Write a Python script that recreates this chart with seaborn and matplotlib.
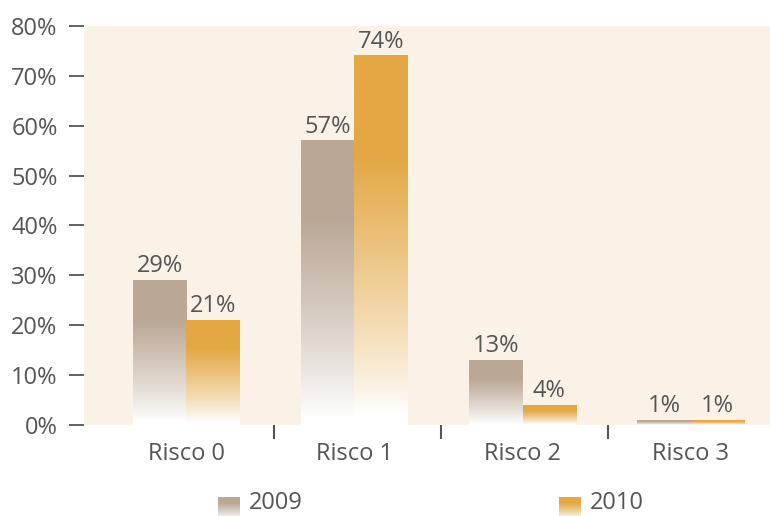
import numpy as np
import pandas as pd
import matplotlib
matplotlib.use("Agg")
import matplotlib.pyplot as plt
import matplotlib.colors as mcolors
import seaborn as sns

categories = ["Risco 0", "Risco 1", "Risco 2", "Risco 3"]
years = ["2009", "2010"]
values_2009 = [29, 57, 13, 1]
values_2010 = [21, 74, 4, 1]
y_ticks = [0, 10, 20, 30, 40, 50, 60, 70, 80]
y_tick_labels = ["0%", "10%", "20%", "30%", "40%", "50%", "60%", "70%", "80%"]

colors = {"2009": "#BAA795", "2010": "#E3A845"}
bg = "#FBF2E7"
text_c = "#555555"

df = pd.DataFrame({
    "Categoria": categories * 2,
    "Ano": [years[0]] * 4 + [years[1]] * 4,
    "Valor": values_2009 + values_2010,
})

sns.set_theme(style="white")
plt.rcParams["font.family"] = ["Open Sans", "DejaVu Sans"]
plt.rcParams["font.weight"] = "medium"
FS = 17

fig = plt.figure(figsize=(7.7, 5.16), dpi=100)
ax = fig.add_axes([84 / 770, 91 / 516, 1 - 84 / 770, (425 - 26) / 516])
ax.set_facecolor(bg)

sns.barplot(data=df, x="Categoria", y="Valor", hue="Ano", order=categories,
            hue_order=years, palette=colors, width=0.636, ax=ax,
            legend=False, saturation=1, errorbar=None)


def gradient_rgba(color, n=256):
    c = np.array(mcolors.to_rgb(color))
    t = np.linspace(1, 0, n)  # top -> bottom
    f = np.clip((t - 0.03) / 0.7, 0, 1) ** 0.85
    rgb = 1 - (1 - c)[None, :] * f[:, None]
    rgba = np.concatenate([rgb, np.ones((n, 1))], axis=1)
    return rgba[:, None, :]


for year, cont in zip(years, ax.containers):
    vals = values_2009 if year == "2009" else values_2010
    ax.bar_label(cont, labels=[f"{v}%" for v in vals], padding=1.5,
                 fontsize=FS, color=text_c)
    grad = gradient_rgba(colors[year])
    for p in cont.patches:
        x0 = p.get_x()
        w = p.get_width()
        h = p.get_height()
        ax.imshow(grad, extent=[x0, x0 + w, 0, h], aspect="auto",
                  zorder=2, interpolation="bilinear")
        p.set_visible(False)

ax.set_xlim(-0.608, 3.471)
ax.set_ylim(0, 80)
ax.set_yticks(y_ticks)
ax.set_yticklabels(y_tick_labels)
ax.set_xlabel("")
ax.set_ylabel("")
for s in ax.spines.values():
    s.set_visible(False)

ax.tick_params(axis="y", which="major", left=True, length=11, width=1.3,
               color=text_c, pad=8, labelsize=FS, labelcolor=text_c)
ax.tick_params(axis="x", which="major", bottom=False, length=0, pad=12,
               labelsize=FS, labelcolor=text_c)
ax.set_xticks([0.52, 1.515, 2.51], minor=True)
ax.tick_params(axis="x", which="minor", bottom=True, length=10, width=1.5,
               color=text_c, direction="out")
ax.grid(False)

# Legend (manual, with gradient swatches)
for year, sx, tx in [("2009", 218, 249), ("2010", 559, 590)]:
    sw = fig.add_axes([sx / 770, (516 - 519) / 516, 22 / 770, 22 / 516])
    sw.imshow(gradient_rgba(colors[year]), aspect="auto", extent=[0, 1, 0, 1],
              interpolation="bilinear")
    sw.set_axis_off()
    fig.text(tx / 770, (516 - 503) / 516, year, fontsize=FS, color=text_c,
             va="center", ha="left")

fig.savefig("out.png", dpi=100)
